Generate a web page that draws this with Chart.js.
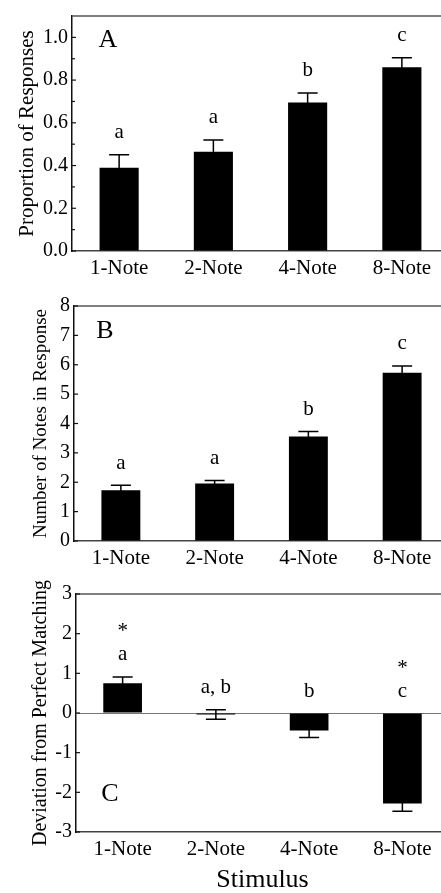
<!DOCTYPE html>
<html lang="en">
<head>
<meta charset="UTF-8">
<title>Stimulus</title>
<script src="https://cdn.jsdelivr.net/npm/chart.js@4.4.3/dist/chart.umd.min.js"></script>
<style>
    html, body { margin: 0; padding: 0; background: #fff; width: 441px; height: 893px; overflow: hidden; }
    canvas { position: absolute; left: 0; }
    #chartA { top: 0; }
    #chartB { top: 290px; }
    #chartC { top: 578px; }
</style>
</head>
<body>
<canvas id="chartA" width="449" height="290"></canvas>
<canvas id="chartB" width="449" height="290"></canvas>
<canvas id="chartC" width="449" height="318"></canvas>
<script>
    const stimuli = ['1-Note', '2-Note', '4-Note', '8-Note'];

    // A: proportion of responses
    const propMean = [0.39, 0.465, 0.695, 0.86];
    const propErr = [0.06, 0.055, 0.045, 0.045];
    const propLetters = ['a', 'a', 'b', 'c'];
    const propTicks = [0, 0.2, 0.4, 0.6, 0.8, 1.0];
    const propMinor = [0.1, 0.3, 0.5, 0.7, 0.9];

    // B: number of notes in response
    const notesMean = [1.73, 1.96, 3.56, 5.73];
    const notesErr = [0.17, 0.1, 0.17, 0.23];
    const notesLetters = ['a', 'a', 'b', 'c'];
    const notesTicks = [0, 1, 2, 3, 4, 5, 6, 7, 8];

    // C: deviation from perfect matching
    const devMean = [0.75, -0.04, -0.44, -2.28];
    const devErr = [0.16, 0.12, 0.175, 0.2];
    const devLetters = ['a', 'a, b', 'b', 'c'];
    const devStars = ['*', '', '', '*'];
    const devTicks = [-3, -2, -1, 0, 1, 2, 3];

    const serif = "'Liberation Serif', 'Times New Roman', serif";

    // draws frame top, inside ticks, zero line, error bars and letters
    function extras(p) {
        return {
            id: 'extras' + p.panel,
            beforeDatasetsDraw(chart) {
                const ctx = chart.ctx, area = chart.chartArea, y = chart.scales.y;
                if (y.min < 0) {
                    ctx.save();
                    ctx.strokeStyle = '#777';
                    ctx.lineWidth = 1;
                    ctx.beginPath();
                    ctx.moveTo(area.left, Math.round(y.getPixelForValue(0)) + 0.5);
                    ctx.lineTo(area.right, Math.round(y.getPixelForValue(0)) + 0.5);
                    ctx.stroke();
                    ctx.restore();
                }
            },
            afterDraw(chart) {
                const ctx = chart.ctx, area = chart.chartArea, y = chart.scales.y;
                const meta = chart.getDatasetMeta(0);
                ctx.save();
                // top frame line
                ctx.strokeStyle = '#555';
                ctx.lineWidth = 1.5;
                ctx.beginPath();
                ctx.moveTo(area.left, area.top);
                ctx.lineTo(area.right, area.top);
                ctx.stroke();
                // inside tick marks
                ctx.strokeStyle = '#111';
                ctx.lineWidth = 1.2;
                p.ticks.forEach(v => {
                    const py = y.getPixelForValue(v);
                    ctx.beginPath();
                    ctx.moveTo(area.left, py);
                    ctx.lineTo(area.left + 4, py);
                    ctx.stroke();
                });
                (p.minor || []).forEach(v => {
                    const py = y.getPixelForValue(v);
                    ctx.beginPath();
                    ctx.moveTo(area.left, py);
                    ctx.lineTo(area.left + 3, py);
                    ctx.stroke();
                });
                // error bars
                ctx.strokeStyle = '#000';
                ctx.lineWidth = 1.5;
                meta.data.forEach((bar, i) => {
                    const v = p.mean[i], e = p.err[i];
                    const y1 = y.getPixelForValue(v + e), y2 = y.getPixelForValue(v - e);
                    ctx.beginPath();
                    ctx.moveTo(bar.x, y1);
                    ctx.lineTo(bar.x, y2);
                    ctx.moveTo(bar.x - 10, y1);
                    ctx.lineTo(bar.x + 10, y1);
                    ctx.moveTo(bar.x - 10, y2);
                    ctx.lineTo(bar.x + 10, y2);
                    ctx.stroke();
                });
                // significance letters
                ctx.fillStyle = '#000';
                ctx.textAlign = 'center';
                ctx.textBaseline = 'middle';
                ctx.font = '21px ' + serif;
                meta.data.forEach((bar, i) => {
                    const anchor = Math.max(p.mean[i] + p.err[i], 0);
                    const ly = y.getPixelForValue(anchor) - 22;
                    ctx.fillText(p.letters[i], bar.x, ly);
                    if (p.stars && p.stars[i]) {
                        ctx.fillText(p.stars[i], bar.x, ly - 23);
                    }
                });
                // panel letter
                ctx.font = '26px ' + serif;
                ctx.fillText(p.panel, area.left + p.labelDx, p.labelFromBottom ? area.bottom - p.labelDy : area.top + p.labelDy);
                ctx.restore();
            }
        };
    }

    function makeChart(id, p) {
        return new Chart(document.getElementById(id), {
            type: 'bar',
            data: {
                labels: stimuli,
                datasets: [{
                    data: p.mean,
                    backgroundColor: '#000',
                    borderWidth: 0,
                    barPercentage: 0.415,
                    categoryPercentage: 1.0
                }]
            },
            options: {
                responsive: false,
                animation: false,
                devicePixelRatio: 1,
                layout: { padding: { top: 10, left: 0, right: 0, bottom: 0 } },
                plugins: { legend: { display: false }, tooltip: { enabled: false } },
                scales: {
                    x: {
                        grid: { display: false, drawTicks: false },
                        border: { color: '#444', width: 1.5 },
                        ticks: { color: '#000', font: { family: serif, size: 21 }, padding: 5 },
                        title: {
                            display: !!p.xTitle,
                            text: p.xTitle || '',
                            color: '#000',
                            font: { family: serif, size: 26 },
                            padding: { top: 0, bottom: 0 }
                        },
                        afterFit: s => { s.height = p.xHeight; }
                    },
                    y: {
                        min: p.min,
                        max: p.max,
                        grid: { drawOnChartArea: false, drawTicks: false },
                        border: { color: '#111', width: 1.5 },
                        afterBuildTicks: s => { s.ticks = p.ticks.map(v => ({ value: v })); },
                        ticks: {
                            color: '#000',
                            font: { family: serif, size: 20 },
                            padding: 4,
                            callback: v => p.fmt(v)
                        },
                        title: {
                            display: true,
                            text: p.yTitle,
                            color: '#000',
                            font: { family: serif, size: p.yTitleSize },
                            padding: { top: p.yTitlePad, bottom: 0 }
                        },
                        afterFit: s => { s.width = p.yWidth; }
                    }
                }
            },
            plugins: [extras(p)]
        });
    }

    makeChart('chartA', {
        panel: 'A', mean: propMean, err: propErr, letters: propLetters,
        ticks: propTicks, minor: propMinor, min: 0, max: 1.1,
        fmt: v => v.toFixed(1),
        yTitle: 'Proportion of Responses', yTitleSize: 21, yTitlePad: 15,
        yWidth: 72, xHeight: 39, labelDx: 36, labelDy: 24
    });

    makeChart('chartB', {
        panel: 'B', mean: notesMean, err: notesErr, letters: notesLetters,
        ticks: notesTicks, min: 0, max: 8,
        fmt: v => String(v),
        yTitle: 'Number of Notes in Response', yTitleSize: 19, yTitlePad: 30,
        yWidth: 74, xHeight: 39, labelDx: 31, labelDy: 25
    });

    makeChart('chartC', {
        panel: 'C', mean: devMean, err: devErr, letters: devLetters, stars: devStars,
        ticks: devTicks, min: -3, max: 3,
        fmt: v => String(v),
        yTitle: 'Deviation from Perfect Matching', yTitleSize: 20, yTitlePad: 29,
        yWidth: 76, xHeight: 64, xTitle: 'Stimulus',
        labelDx: 34, labelDy: 38, labelFromBottom: true
    });
</script>
</body>
</html>
